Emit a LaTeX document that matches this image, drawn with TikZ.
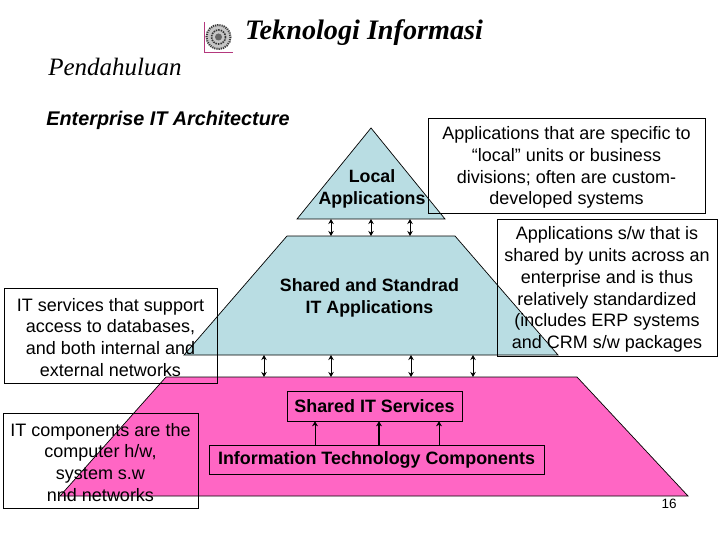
\documentclass[tikz,border=0pt]{standalone}
\usepackage{fontspec}
\usetikzlibrary{arrows.meta}
\setmainfont{Liberation Sans}
\newfontfamily\titlefont{Liberation Serif}
\definecolor{levelblue}{RGB}{185,221,227}
\definecolor{levelpink}{RGB}{255,102,196}
\newcommand{\firstline}{\rule{0pt}{17pt}}
\begin{document}
\begin{tikzpicture}[
  x=1pt, y=-1pt,
  level/.style={draw=black, line width=0.7pt},
  note/.style={draw=black, line width=0.8pt, minimum width=#1, inner sep=0pt, align=center, font=\fontsize{18}{21.9}\selectfont},
  tag/.style={inner sep=0pt, align=center, font=\fontsize{17.8}{21.9}\selectfont\bfseries},
  band/.style={draw=black, line width=0.7pt, inner sep=0pt, font=\fontsize{17.9}{20}\selectfont\bfseries},
  both/.style={{Stealth[length=5pt,width=5.5pt]}-{Stealth[length=5pt,width=5.5pt]}, line width=0.9pt},
  arrow/.style={-{Stealth[length=5pt,width=6pt]}, line width=0.9pt}
]
  \useasboundingbox (0,0) rectangle (720,540);

  % pyramid
  \filldraw[level, fill=levelblue] (371,128) -- (445,219) -- (297,219) -- cycle;
  \filldraw[level, fill=levelblue] (287,236) -- (455,236) -- (558,355) -- (184,355) -- cycle;
  \filldraw[level, fill=levelpink] (166,377) -- (577,377) -- (688,496) -- (60,496) -- cycle;
  \coordinate (localbase) at (371,219);
  \coordinate (sharedtop) at (371,236);
  \coordinate (sharedbase) at (371,355);
  \coordinate (servicetop) at (371,377);

  % logo
  \draw[magenta!70!black, line width=0.7pt] (204,22) -- (204,52) -- (233,52);
  \fill[gray!45] (218.5,37) circle (13);
  \draw[black!80, line width=2pt, dash pattern=on 1pt off 1.2pt] (218.5,37) circle (12);
  \draw[black!80, line width=1.6pt, dash pattern=on 1.5pt off 1pt] (218.5,37) circle (7);
  \fill[black!60] (218.5,37) circle (3.5);

  % headings
  \node[inner sep=0pt, font=\titlefont\itshape\bfseries\fontsize{28.2}{30}\selectfont] (title) at (364,33) {Teknologi Informasi};
  \node[inner sep=0pt, font=\titlefont\itshape\fontsize{25}{28}\selectfont] (section) at (115,67) {Pendahuluan};
  \node[inner sep=0pt, font=\itshape\bfseries\fontsize{19.8}{22}\selectfont] (subject) at (168,120) {Enterprise IT Architecture};
  \node[inner sep=0pt, font=\fontsize{13.5}{14}\selectfont] (page) at (669,504) {16};

  % levels
  \node[tag] (local) at (372,189) {Local\\Applications};
  \node[tag] (shared) at (369.5,297.5) {Shared and Standrad\\IT Applications};
  \node[band, minimum width=175pt, minimum height=30pt] (services) at (374.5,406) {Shared IT Services};
  \node[band, minimum width=335pt, minimum height=29pt] (components) at (376.5,459.5) {Information Technology Components};

  % notes
  \node[note=277pt, minimum height=95pt] (localnote) at (566.5,165.5) {\firstline Applications that are specific to\\``local'' units or business\\divisions; often are custom-\\developed systems};
  \node[note=220pt, minimum height=137pt] (sharednote) at (607,287.5) {\firstline Applications s/w that is\\shared by units across an\\enterprise and is thus\\relatively standardized\\(includes ERP systems\\and CRM s/w packages};
  \node[note=213pt, minimum height=95pt] (servicenote) at (110.5,335.5) {\firstline IT services that support\\access to databases,\\and both internal and\\external networks};
  \node[note=195pt, minimum height=95pt] (componentnote) at (100.5,460.5) {\firstline IT components are the\\computer h/w,\\system s.w\\nnd networks};

  % connectors
  \foreach \x in {331,371,410}
    \draw[both] (\x,0 |- localbase) -- (\x,0 |- sharedtop);
  \foreach \x in {264,331,411,473}
    \draw[both] (\x,0 |- sharedbase) -- (\x,0 |- servicetop);
  \draw[arrow] (315,0 |- components.north) -- (315,0 |- services.south);
  \draw[arrow, line width=1.4pt] (379,0 |- components.north) -- (379,0 |- services.south);
  \draw[arrow] (439,0 |- components.north) -- (439,0 |- services.south);
\end{tikzpicture}
\end{document}
